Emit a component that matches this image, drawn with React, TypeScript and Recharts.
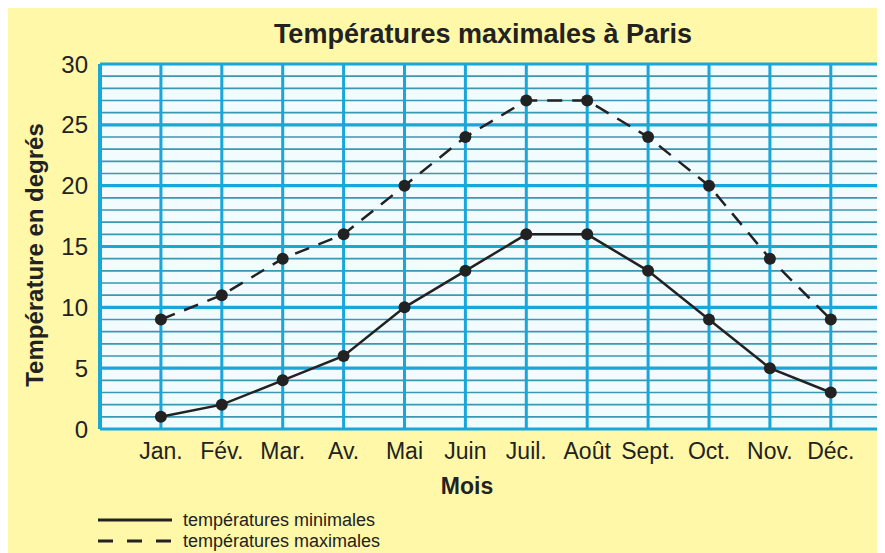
import React from 'react';
import { LineChart, Line, XAxis, YAxis, CartesianGrid, ReferenceLine, Legend } from 'recharts';

const months = ['Jan.', 'Fév.', 'Mar.', 'Av.', 'Mai', 'Juin', 'Juil.', 'Août', 'Sept.', 'Oct.', 'Nov.', 'Déc.'];
const minTemps = [1, 2, 4, 6, 10, 13, 16, 16, 13, 9, 5, 3];
const maxTemps = [9, 11, 14, 16, 20, 24, 27, 27, 24, 20, 14, 9];
const yTicks = [0, 5, 10, 15, 20, 25, 30];
const monthPositions = [1, 2, 3, 4, 5, 6, 7, 8, 9, 10, 11, 12];

const title = 'Températures maximales à Paris';
const yLabel = 'Température en degrés';
const xLabel = 'Mois';
const seriesNames = ['températures minimales', 'températures maximales'];
const seriesDashes = ['', '15 14'];

const data = months.map((m, i) => ({ m: monthPositions[i], min: minTemps[i], max: maxTemps[i] }));

const FONT = '"Liberation Sans", Arial, Helvetica, sans-serif';
const BG = '#FFF8A8';
const PLOT = '#F2FBFD';
const CYAN = '#19A6DA';
const TEAL = '#3A98B2';
const INK = '#222222';

const minorLines = Array.from({ length: 31 }, (_, i) => i).filter((v) => v % 5 !== 0);
const majorLines = yTicks;

const LegendContent = () => {
  return (
    <svg width={320} height={46} style={{ display: 'block' }}>
      {seriesNames.map((name, i) => (
        <g key={i}>
          <line x1={0} x2={74} y1={12 + i * 21} y2={12 + i * 21} stroke={INK} strokeWidth={3}
            strokeDasharray={seriesDashes[i] || undefined} />
          <text x={85} y={12 + i * 21} dominantBaseline="central" fontSize={18} fontFamily={FONT} fill={INK}>{name}</text>
        </g>
      ))}
    </svg>
  );
};

export default function App() {
  return (
    <div style={{ position: 'relative', width: 877, height: 545, background: BG, fontFamily: FONT }}>
      <LineChart width={877} height={545} data={data} margin={{ top: 56, right: 0, bottom: 54, left: 0 }}>
        <CartesianGrid horizontal={false} vertical={false} fill={PLOT} fillOpacity={1} />
        <XAxis type="number" dataKey="m" domain={[0, 12.89]} ticks={monthPositions} allowDataOverflow
          tickFormatter={(v: number) => months[v - 1]} axisLine={false} tickLine={false} tickSize={0}
          tickMargin={14} height={70} interval={0}
          tick={{ fill: INK, fontSize: 23, fontFamily: FONT }} />
        <YAxis type="number" domain={[0, 30]} ticks={yTicks} axisLine={false} tickLine={false} tickSize={0}
          tickMargin={12} width={92} interval={0}
          tick={{ fill: INK, fontSize: 24, fontFamily: FONT }} />
        {minorLines.map((v) => (
          <ReferenceLine key={'h' + v} y={v} stroke={TEAL} strokeWidth={1.6} />
        ))}
        {monthPositions.map((v) => (
          <ReferenceLine key={'v' + v} x={v} stroke={CYAN} strokeWidth={3} />
        ))}
        <ReferenceLine x={0} stroke={CYAN} strokeWidth={4} />
        {majorLines.map((v) => (
          <ReferenceLine key={'H' + v} y={v} stroke={CYAN} strokeWidth={3.2} />
        ))}
        <Line type="linear" dataKey="min" name={seriesNames[0]} stroke={INK} strokeWidth={2.5}
          dot={{ r: 6, fill: INK, stroke: INK, strokeWidth: 0 }} isAnimationActive={false} />
        <Line type="linear" dataKey="max" name={seriesNames[1]} stroke={INK} strokeWidth={2.5} strokeDasharray="15 10"
          dot={{ r: 6, fill: INK, stroke: INK, strokeWidth: 0, strokeDasharray: '' }} isAnimationActive={false} />
        <Legend layout="vertical" align="center" verticalAlign="middle" content={<LegendContent />}
          wrapperStyle={{ left: 90, top: 500, width: 320, height: 46 }} />
      </LineChart>
      <svg width={877} height={545} style={{ position: 'absolute', left: 0, top: 0, pointerEvents: 'none' }}>
        <text x={475} y={35} textAnchor="middle" fontSize={27} fontWeight="bold" fontFamily={FONT} fill={INK}>{title}</text>
        <text x={35} y={247} transform="rotate(-90 35 247)" textAnchor="middle" fontSize={24} fontWeight="bold" fontFamily={FONT} fill={INK}>{yLabel}</text>
        <text x={459} y={486} textAnchor="middle" fontSize={23} fontWeight="bold" fontFamily={FONT} fill={INK}>{xLabel}</text>
      </svg>
    </div>
  );
}
